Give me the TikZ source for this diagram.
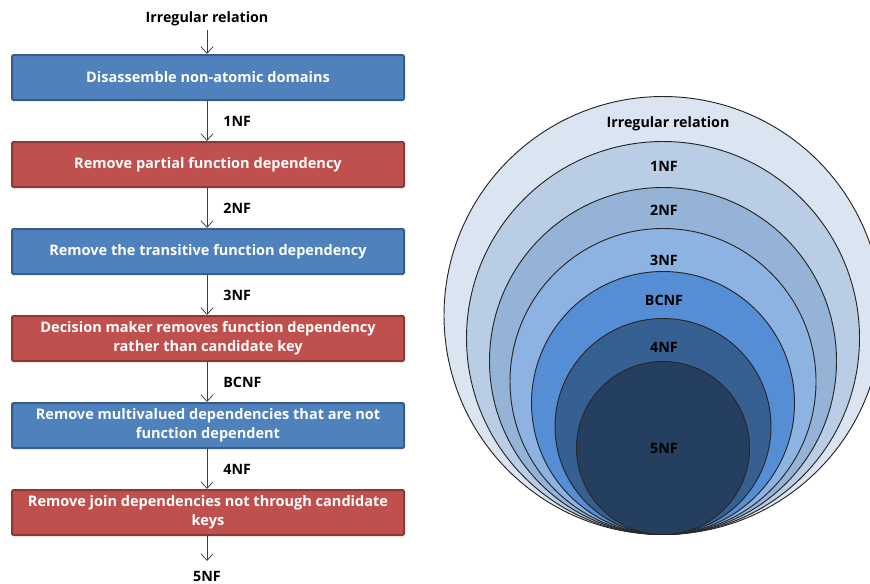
\documentclass[tikz,border=0pt]{standalone}
\usepackage{fontspec}
\setmainfont{Open Sans}[BoldFont={Open Sans Bold}]
\usetikzlibrary{arrows.meta}
\definecolor{bluefill}{HTML}{4F81BD}
\definecolor{blueline}{HTML}{385D8A}
\definecolor{redfill}{HTML}{C0504D}
\definecolor{redline}{HTML}{8C3836}
\definecolor{cA}{HTML}{DBE5F1}
\definecolor{cB}{HTML}{B9CDE5}
\definecolor{cC}{HTML}{95B3D7}
\definecolor{cD}{HTML}{8DB3E2}
\definecolor{cE}{HTML}{558ED5}
\definecolor{cF}{HTML}{376092}
\definecolor{cG}{HTML}{243F60}
\definecolor{arrowgray}{HTML}{404040}
\tikzset{
  stepbox/.style={draw, line width=1.5pt, rounded corners=1pt, minimum width=392*0.75pt, minimum height=45*0.75pt, align=center, text=white, font=\bfseries\fontsize{10.9}{14.3}\selectfont, inner sep=0pt},
  bluebox/.style={stepbox, fill=bluefill, draw=blueline},
  redbox/.style={stepbox, fill=redfill, draw=redline},
  lbl/.style={font=\bfseries\fontsize{10.7}{12}\selectfont, text=black, inner sep=0pt},
  flow/.style={draw=arrowgray, line width=0.6pt, -{Straight Barb[length=5pt,width=9pt]}},
  ring/.style={draw=black!85, line width=0.7pt},
}
\begin{document}
\begin{tikzpicture}[x=0.75pt, y=-0.75pt]
\useasboundingbox (0,0) rectangle (870,583);
% flowchart
\node[lbl] (top) at (207,19) {Irregular relation};
\node[bluebox] (b1) at (208,77.5) {Disassemble non-atomic domains};
\node[redbox] (b2) at (208,164.5) {Remove partial function dependency};
\node[bluebox] (b3) at (208,251.5) {Remove the transitive function dependency};
\node[redbox] (b4) at (208,338.5) {Decision maker removes function dependency\\rather than candidate key};
\node[bluebox] (b5) at (208,425.5) {Remove multivalued dependencies that are not\\function dependent};
\node[redbox] (b6) at (208,512.5) {Remove join dependencies not through candidate\\keys};
\coordinate (e6) at (207,561);
\node[lbl] (bot) at (207,576) {5NF};
\draw[flow] (207,30) -- (b1.north -| 207,0);
\draw[flow] (b1.south -| 207,0) -- (b2.north -| 207,0) node[lbl, midway, anchor=west, xshift=16*0.75pt] (l1) {1NF};
\draw[flow] (b2.south -| 207,0) -- (b3.north -| 207,0) node[lbl, midway, anchor=west, xshift=16*0.75pt] (l2) {2NF};
\draw[flow] (b3.south -| 207,0) -- (b4.north -| 207,0) node[lbl, midway, anchor=west, xshift=16*0.75pt] (l3) {3NF};
\draw[flow] (b4.south -| 207,0) -- (b5.north -| 207,0) node[lbl, midway, anchor=west, xshift=16*0.75pt] (l4) {BCNF};
\draw[flow] (b5.south -| 207,0) -- (b6.north -| 207,0) node[lbl, midway, anchor=west, xshift=16*0.75pt] (l5) {4NF};
\draw[flow] (b6.south -| 207,0) -- (e6);
% nested circles, tangent at bottom y=534.5
\begin{scope}
\clip (0,0) rectangle (870,583);
\draw[ring, fill=cA] (663,315.5) circle[radius=219*0.75pt];
\draw[ring, fill=cB] (663,338) circle[radius=196.5*0.75pt];
\draw[ring, fill=cC] (663,361) circle[radius=173.5*0.75pt];
\draw[ring, fill=cD] (663,381.5) circle[radius=153*0.75pt];
\draw[ring, fill=cE] (663,403) circle[radius=131.5*0.75pt];
\draw[ring, fill=cF] (663,426.5) circle[radius=108*0.75pt];
\draw[ring, fill=cG] (663,448) circle[radius=86.5*0.75pt];
\end{scope}
\node[lbl] (c0) at (668,124) {Irregular relation};
\node[lbl] (c1) at (664,166) {1NF};
\node[lbl] (c2) at (664,210) {2NF};
\node[lbl] (c3) at (664,260) {3NF};
\node[lbl] (c4) at (664,300) {BCNF};
\node[lbl] (c5) at (664,347) {4NF};
\node[lbl] (c6) at (664,448) {5NF};
\end{tikzpicture}
\end{document}
